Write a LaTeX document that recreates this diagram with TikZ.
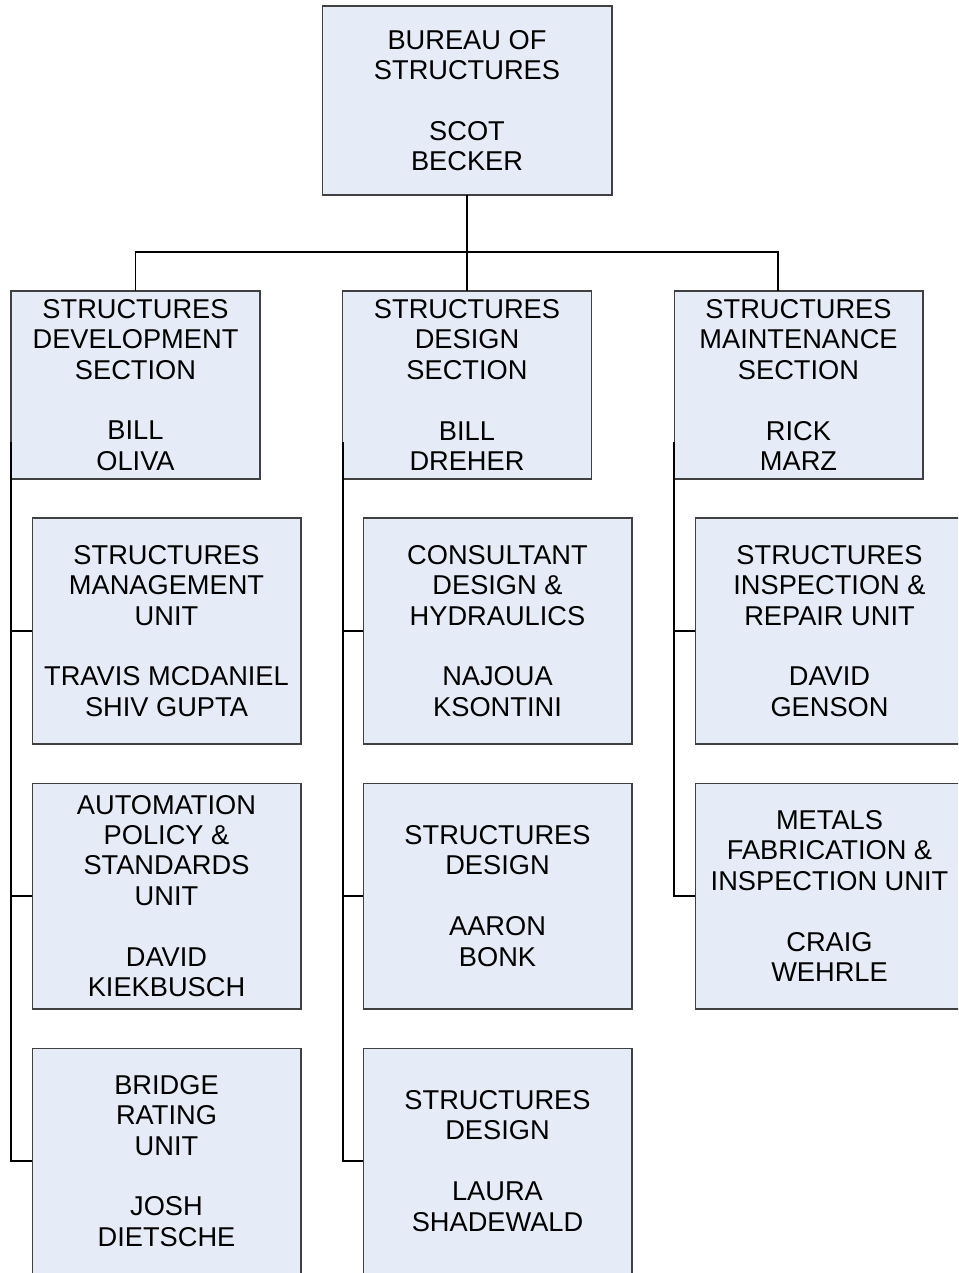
\documentclass[tikz,border=0pt]{standalone}
\usepackage{fontspec}
\setmainfont{Liberation Sans}
\definecolor{boxfill}{RGB}{230,236,247}
\definecolor{boxline}{RGB}{64,64,64}
\begin{document}
\begin{tikzpicture}[x=0.02cm, y=-0.02cm,
	orgbox/.style={draw=boxline, line width=0.6pt, fill=boxfill, align=center, inner sep=0pt, outer sep=0pt,
		font=\fontsize{15.5}{17.3}\selectfont},
	topbox/.style={orgbox, minimum width=5.8cm, minimum height=3.78cm},
	secbox/.style={orgbox, minimum width=4.98cm, minimum height=3.76cm},
	unitbox/.style={orgbox, minimum width=5.38cm, minimum height=4.52cm},
	link/.style={draw=black, line width=0.85pt}]
				\clip (0,0) rectangle (958,1273);
				\node[topbox] (bureau) at (467,100.5) {BUREAU OF\\STRUCTURES\\ ~\\SCOT\\BECKER};
				\node[secbox] (dev) at (135.5,385) {STRUCTURES\\DEVELOPMENT\\SECTION\\ ~\\BILL\\OLIVA};
				\node[secbox] (design) at (467,385) {STRUCTURES\\DESIGN\\SECTION\\ ~\\BILL\\DREHER};
				\node[secbox] (maint) at (798.5,385) {STRUCTURES\\MAINTENANCE\\SECTION\\ ~\\RICK\\MARZ};
				\node[unitbox] (mgmt) at (166.5,631) {STRUCTURES\\MANAGEMENT\\UNIT\\ ~\\TRAVIS MCDANIEL\\SHIV GUPTA};
				\node[unitbox] (auto) at (166.5,896) {AUTOMATION\\POLICY \&\\STANDARDS\\UNIT\\ ~\\DAVID\\KIEKBUSCH};
				\node[unitbox] (bridge) at (166.5,1161) {BRIDGE\\RATING\\UNIT\\ ~\\JOSH\\DIETSCHE};
				\node[unitbox] (consult) at (497.5,631) {CONSULTANT\\DESIGN \&\\HYDRAULICS\\ ~\\NAJOUA\\KSONTINI};
				\node[unitbox] (bonk) at (497.5,896) {STRUCTURES\\DESIGN\\ ~\\AARON\\BONK};
				\node[unitbox] (shade) at (497.5,1161) {STRUCTURES\\DESIGN\\ ~\\LAURA\\SHADEWALD};
				\node[unitbox] (inspect) at (829.5,631) {STRUCTURES\\INSPECTION \&\\REPAIR UNIT\\ ~\\DAVID\\GENSON};
				\node[unitbox] (metals) at (829.5,896) {METALS\\FABRICATION \&\\INSPECTION UNIT\\ ~\\CRAIG\\WEHRLE};
				\coordinate (bus) at (467,252);
				\coordinate (mtap) at (778,291);
				\coordinate (devtap) at (11,442);
				\coordinate (destap) at (343,442);
				\coordinate (mtntap) at (674,442);
				\draw[link] (bureau) -- (design);
				\draw[link] (dev.north) |- (bus) -| (mtap);
				\draw[link] (devtap) |- (mgmt.west);
				\draw[link] (devtap) |- (auto.west);
				\draw[link] (devtap) |- (bridge.west);
				\draw[link] (destap) |- (consult.west);
				\draw[link] (destap) |- (bonk.west);
				\draw[link] (destap) |- (shade.west);
				\draw[link] (mtntap) |- (inspect.west);
				\draw[link] (mtntap) |- (metals.west);
			\end{tikzpicture}
\end{document}
